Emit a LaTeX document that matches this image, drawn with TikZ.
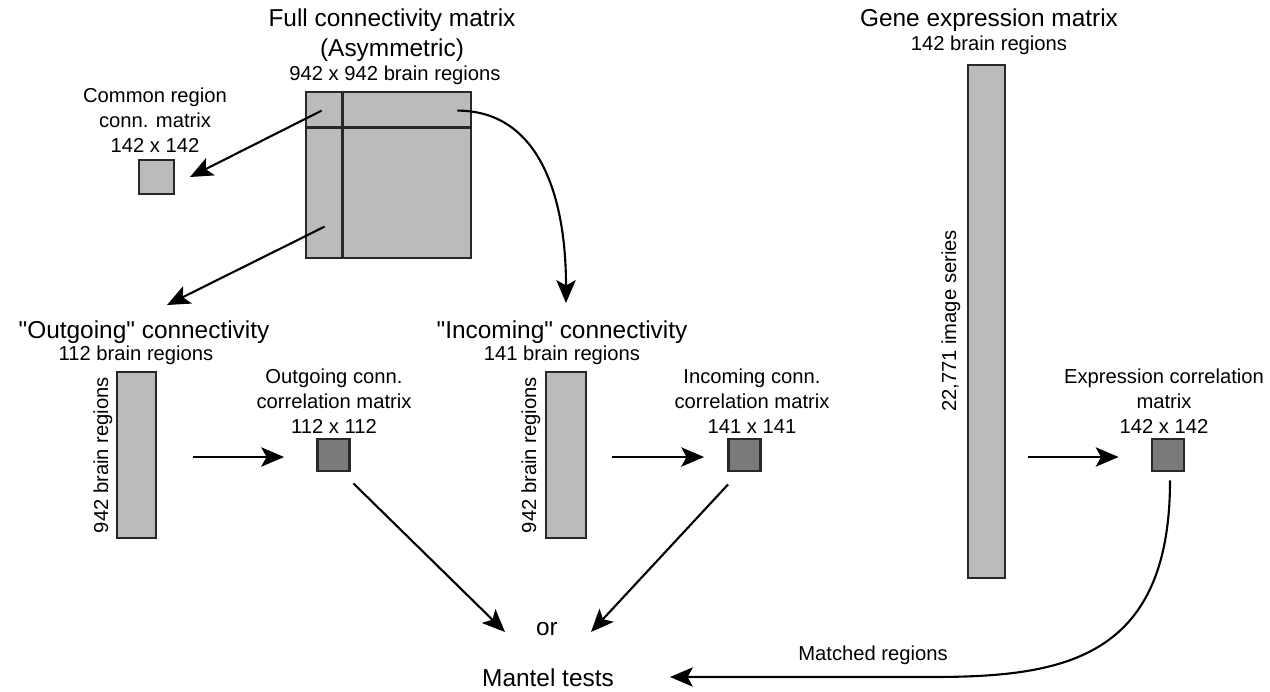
\documentclass[tikz,border=0pt]{standalone}
\usepackage{fontspec}
\setmainfont{Liberation Sans}
\usetikzlibrary{calc, positioning, arrows.meta}
\definecolor{MatGray}{RGB}{187,187,187}
\definecolor{CorrGray}{RGB}{122,122,122}
\definecolor{EdgeGray}{RGB}{40,40,40}

\tikzset{
  matbox/.style={draw=EdgeGray, line width=1.6pt, fill=MatGray, inner sep=0pt},
  corrbox/.style={draw=EdgeGray, line width=1.6pt, fill=CorrGray, inner sep=0pt, minimum width=0.64cm, minimum height=0.64cm},
  titletext/.style={font=\fontsize{13.9}{17}\selectfont, inner sep=0pt, align=center},
  labeltext/.style={font=\fontsize{11.5}{14.2}\selectfont, inner sep=0pt, align=center},
  arr/.style={line width=1.2pt, -{Stealth[length=13pt, width=11pt, inset=3pt]}},
}

\begin{document}
\begin{tikzpicture}[x=0.02cm, y=-0.02cm]
\useasboundingbox (0,0) rectangle (1270,691);

% full connectivity matrix
\node[matbox, minimum width=3.3cm, minimum height=3.32cm] (full) at (388.5,175) {};
\draw[EdgeGray, line width=1.6pt]
  ($(full.north west)+(38,0)$) -- ($(full.south west)+(38,0)$)
  ($(full.north west)+(0,36.5)$) -- ($(full.north east)+(0,36.5)$);
\node[titletext] (fulltitle) at (392,35) {Full connectivity matrix\\(Asymmetric)};
\node[labeltext] (fullsize) at (395,75) {942 x 942 brain regions};

% common region matrix
\node[matbox, minimum width=0.7cm, minimum height=0.68cm] (common) at (156.5,177) {};
\node[labeltext] (commontitle) at (155,120) {Common region\\conn. matrix\\142 x 142};

% outgoing
\node[titletext] (outtitle) at (144,332) {\textquotedbl Outgoing\textquotedbl{} connectivity};
\node[labeltext] (outsize) at (136,355) {112 brain regions};
\node[matbox, minimum width=0.78cm, minimum height=3.32cm] (outbar) at (136.5,455) {};
\node[labeltext, rotate=90] (outrows) at (103,455) {942 brain regions};
\node[corrbox] (outcorr) at (333.5,455) {};
\node[labeltext] (outcorrlabel) at (334,401) {Outgoing conn.\\correlation matrix\\112 x 112};

% incoming
\node[titletext] (intitle) at (562,332) {\textquotedbl Incoming\textquotedbl{} connectivity};
\node[labeltext] (insize) at (562,355) {141 brain regions};
\node[matbox, minimum width=0.8cm, minimum height=3.32cm] (inbar) at (566,455) {};
\node[labeltext, rotate=90] (inrows) at (531,455) {942 brain regions};
\node[corrbox] (incorr) at (744.5,455) {};
\node[labeltext] (incorrlabel) at (752,401) {Incoming conn.\\correlation matrix\\141 x 141};

% gene expression
\node[titletext] (genetitle) at (989,20) {Gene expression matrix};
\node[labeltext] (genesize) at (989,45) {142 brain regions};
\node[matbox, minimum width=0.74cm, minimum height=10.26cm] (genebar) at (986.5,321.5) {};
\node[labeltext, rotate=90] (generows) at (951,321) {22,771 image series};
\node[corrbox] (exprcorr) at (1168,455) {};
\node[labeltext] (exprlabel) at (1164,401) {Expression correlation\\matrix\\142 x 142};

% tests
\node[titletext] (ortext) at (547,629) {or};
\node[titletext] (mantel) at (548,678) {Mantel tests};
\node[labeltext] (matched) at (873,655) {Matched regions};

% connectors
\draw[arr] ($(full.north west)+(17,20)$) -- ($(common)+(33.5,0)$);
\draw[arr] ($(full.north west)+(20,136)$) -- ($(outtitle)+(23,-27)$);
\draw[arr] ($(full.north east)+(-15,20)$) .. controls +(80,0) and +(0,-110) .. ($(intitle)+(4,-29)$);
\draw[arr] ($(outbar.east)+(36,2)$) -- ($(outcorr.west)+(-32,2)$);
\draw[arr] ($(inbar.east)+(25,2)$) -- ($(incorr.west)+(-23,2)$);
\draw[arr] ($(genebar.east |- exprcorr.west)+(22,2)$) -- ($(exprcorr.west)+(-32,2)$);
\draw[arr] ($(outcorr.south east)+(2.5,11)$) -- ($(ortext)+(-42,3)$);
\draw[arr] ($(incorr.south west)+(1,12)$) -- ($(ortext)+(44,3)$);
\draw[arr] ($(exprcorr.south)+(2,8)$) .. controls +(0,181) and +(130,0) .. ($(mantel)+(382,-1)$) -- ($(mantel)+(122,-1)$);
\end{tikzpicture}
\end{document}
